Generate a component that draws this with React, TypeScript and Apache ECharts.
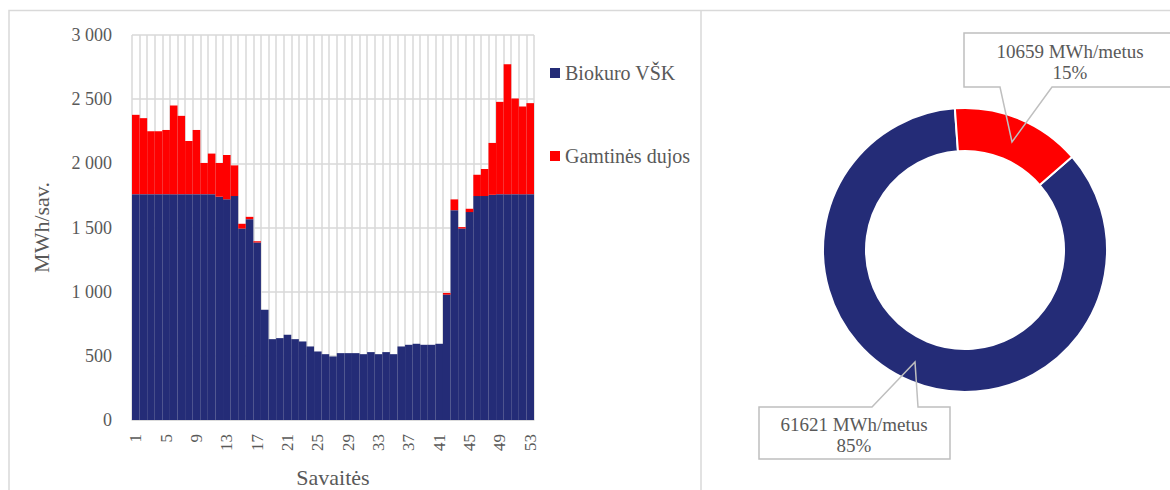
import React, { useEffect, useRef } from "react";
import * as echarts from "echarts";

const weeks: string[] = Array.from({ length: 53 }, (_, i) => String(i + 1));

const biokuro: number[] = [
  1760, 1760, 1760, 1760, 1760, 1760, 1760, 1760, 1760, 1760,
  1760, 1740, 1720, 1745, 1492, 1565, 1383, 859, 630, 638,
  664, 630, 612, 573, 534, 513, 495, 521, 521, 521,
  513, 529, 513, 529, 513, 573, 586, 594, 586, 586,
  594, 977, 1635, 1492, 1620, 1745, 1745, 1755, 1760, 1760,
  1760, 1760, 1760,
];

const dujos: number[] = [
  618, 592, 490, 490, 500, 691, 610, 414, 500, 243,
  316, 263, 345, 239, 37, 18, 10, 0, 0, 0,
  0, 0, 0, 0, 0, 0, 0, 0, 0, 0,
  0, 0, 0, 0, 0, 0, 0, 0, 0, 0,
  0, 13, 84, 11, 26, 166, 211, 404, 719, 1013,
  745, 683, 709,
];

const seriesNames: string[] = ["Biokuro VŠK", "Gamtinės dujos"];
const annualNames: string[] = ["Biokuro VŠK", "Gamtinės dujos"];
const annualValues: number[] = [61621, 10659];

const yTicks = { min: 0, max: 3000, interval: 500 };

const NAVY = "#242C77";
const RED = "#FF0000";
const GRID = "#D9D9D9";
const TXT = "#595959";
const FONT = "'Liberation Serif', 'Times New Roman', serif";

function fmtThousands(v: number): string {
  if (v >= 1000) {
    const t = Math.floor(v / 1000);
    const r = String(v % 1000).padStart(3, "0");
    return `${t} ${r}`;
  }
  return String(v);
}

export default function App() {
  const ref = useRef<HTMLDivElement>(null);

  useEffect(() => {
    if (!ref.current) return;
    const chart = echarts.init(ref.current, undefined, { renderer: "svg" });

    const labelPos: Record<number, { x: number; y: number }> = {
      0: { x: 854, y: 435 },
      1: { x: 1070, y: 62 },
    };

    const option: any = {
      animation: false,
      backgroundColor: "#ffffff",
      textStyle: { fontFamily: FONT },
      grid: {
        left: 132,
        top: 35,
        width: 402,
        height: 385,
        containLabel: false,
        outerBoundsMode: "none",
      },
      legend: {
        data: seriesNames,
        orient: "vertical",
        left: 545,
        top: 58,
        itemWidth: 10,
        itemHeight: 10,
        itemGap: 63,
        icon: "rect",
        selectedMode: false,
        textStyle: { fontSize: 20, color: TXT, fontFamily: FONT },
      },
      xAxis: {
        type: "category",
        data: weeks,
        boundaryGap: true,
        name: "Savaitės",
        nameLocation: "middle",
        nameGap: 46,
        nameTextStyle: { fontSize: 22, color: TXT, fontFamily: FONT },
        axisLine: { show: true, lineStyle: { color: GRID, width: 1.5 } },
        axisTick: { show: false },
        splitLine: { show: true, interval: 0, lineStyle: { color: GRID, width: 1.5 } },
        axisLabel: {
          interval: 3,
          rotate: 90,
          margin: 14,
          fontSize: 17,
          color: TXT,
          fontFamily: FONT,
        },
      },
      yAxis: {
        type: "value",
        min: yTicks.min,
        max: yTicks.max,
        interval: yTicks.interval,
        name: "MWh/sav.",
        nameLocation: "middle",
        nameGap: 80,
        nameTextStyle: { fontSize: 22, color: TXT, fontFamily: FONT },
        axisLine: { show: false },
        axisTick: { show: false },
        splitLine: { show: true, lineStyle: { color: GRID, width: 1.5 } },
        axisLabel: {
          formatter: (v: number) => fmtThousands(v),
          margin: 20,
          fontSize: 18,
          color: TXT,
          fontFamily: FONT,
        },
      },
      series: [
        {
          name: seriesNames[0],
          type: "bar",
          stack: "total",
          data: biokuro,
          barCategoryGap: "0%",
          itemStyle: { color: NAVY },
        },
        {
          name: seriesNames[1],
          type: "bar",
          stack: "total",
          data: dujos,
          barCategoryGap: "0%",
          itemStyle: { color: RED },
        },
        {
          name: "annual",
          type: "pie",
          center: [965, 250],
          radius: [99, 142],
          startAngle: 41,
          clockwise: true,
          percentPrecision: 0,
          avoidLabelOverlap: false,
          data: annualNames.map((n, i) => ({
            name: n,
            value: annualValues[i],
            itemStyle: { color: i === 0 ? NAVY : RED },
          })),
          itemStyle: { borderColor: "#ffffff", borderWidth: 2 },
          label: {
            show: true,
            position: "outside",
            formatter: "{c} MWh/metus\n{d}%",
            fontSize: 19,
            lineHeight: 21,
            color: TXT,
            fontFamily: FONT,
            align: "center",
          },
          labelLine: { show: false },
          labelLayout: (p: any) => {
            const pos = labelPos[p.dataIndex];
            return { x: pos.x, y: pos.y, align: "center", verticalAlign: "middle" };
          },
          emphasis: { disabled: true },
        },
      ],
      graphic: [
        {
          type: "polyline",
          z: 100,
          silent: true,
          shape: { points: [[9, 490], [9, 10.5], [1170, 10.5]] },
          style: { stroke: GRID, lineWidth: 1.5, fill: null },
        },
        {
          type: "line",
          z: 100,
          silent: true,
          shape: { x1: 701, y1: 10.5, x2: 701, y2: 490 },
          style: { stroke: GRID, lineWidth: 1.5 },
        },
        {
          type: "polygon",
          z: 100,
          silent: true,
          shape: {
            points: [
              [964, 33], [1176, 33], [1176, 87], [1052, 87], [1012, 142], [1000, 87], [964, 87],
            ],
          },
          style: { stroke: "#BFBFBF", lineWidth: 1.5, fill: null },
        },
        {
          type: "polygon",
          z: 100,
          silent: true,
          shape: {
            points: [
              [759, 407], [872, 407], [915, 362], [918, 407], [950, 407], [950, 459], [759, 459],
            ],
          },
          style: { stroke: "#BFBFBF", lineWidth: 1.5, fill: null },
        },
      ],
    };

    chart.setOption(option);
    return () => chart.dispose();
  }, []);

  return (
    <div
      ref={ref}
      style={{ position: "fixed", left: 0, top: 0, width: 1170, height: 490, background: "#fff" }}
    />
  );
}
